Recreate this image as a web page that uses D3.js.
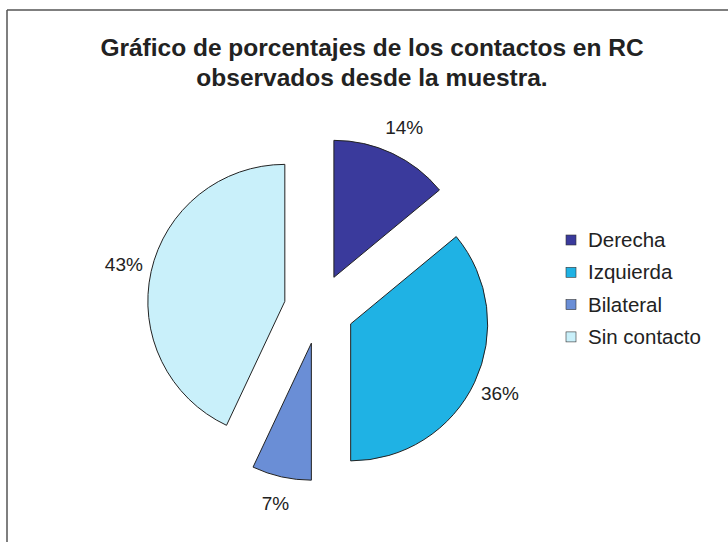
<!DOCTYPE html>
<html>
<head>
<meta charset="utf-8">
<script src="https://d3js.org/d3.v7.min.js"></script>
<style>
  body { margin: 0; padding: 0; background: #fff; }
  svg { display: block; font-family: "Liberation Sans", Arial, sans-serif; }
</style>
</head>
<body>
<div id="chart"></div>
<script>
// Chart data
const categories = ['Derecha', 'Izquierda', 'Bilateral', 'Sin contacto'];
const values = [14, 36, 7, 43];
const colors = ['#3a3a9c', '#1fb2e4', '#6a8ed6', '#c9f0fa'];
const titleLines = ['Gráfico de porcentajes de los contactos en RC', 'observados desde la muestra.'];

const width = 728;
const height = 542;
const cx = 319, cy = 309;
const radius = 137;
const explode = 35;

const svg = d3.select('#chart')
    .append('svg')
    .attr('width', width)
    .attr('height', height);

// frame (only top and left edges are visible in the scan)
svg.append('line')
    .attr('x1', 7).attr('y1', 10).attr('x2', width).attr('y2', 10)
    .attr('stroke', '#555').attr('stroke-width', 1.5);
svg.append('line')
    .attr('x1', 7).attr('y1', 10).attr('x2', 7).attr('y2', height)
    .attr('stroke', '#555').attr('stroke-width', 1.5);

// title
svg.append('text')
    .attr('x', 372)
    .attr('text-anchor', 'middle')
    .attr('font-size', 24.5)
    .attr('font-weight', 'bold')
    .attr('fill', '#222')
    .selectAll('tspan')
    .data(titleLines)
    .enter()
    .append('tspan')
    .attr('x', 372)
    .attr('y', (d, i) => 56 + i * 30)
    .text(d => d);

const pie = d3.pie().sort(null).value(d => d);
const arcs = pie(values);
const arc = d3.arc().innerRadius(0).outerRadius(radius);
const labelArc = d3.arc().innerRadius(200).outerRadius(200);

const g = svg.append('g').attr('transform', `translate(${cx},${cy})`);

g.selectAll('.slice')
    .data(arcs)
    .enter()
    .append('path')
    .attr('class', 'slice')
    .attr('transform', d => {
        const a = (d.startAngle + d.endAngle) / 2;
        return `translate(${Math.sin(a) * explode},${-Math.cos(a) * explode})`;
    })
    .attr('d', arc)
    .attr('fill', (d, i) => colors[i])
    .attr('stroke', '#222')
    .attr('stroke-width', 1);

const total = d3.sum(values);
g.selectAll('.pct')
    .data(arcs)
    .enter()
    .append('text')
    .attr('class', 'pct')
    .attr('x', d => labelArc.centroid(d)[0])
    .attr('y', d => labelArc.centroid(d)[1])
    .attr('dy', '0.3em')
    .attr('text-anchor', 'middle')
    .attr('font-size', 19)
    .attr('fill', '#222')
    .text(d => Math.round(d.data / total * 100) + '%');

// legend
const legend = svg.append('g').attr('transform', 'translate(566,240)');
const item = legend.selectAll('.item')
    .data(categories)
    .enter()
    .append('g')
    .attr('class', 'item')
    .attr('transform', (d, i) => `translate(0,${i * 32.3})`);

item.append('rect')
    .attr('x', 0).attr('y', -5)
    .attr('width', 10).attr('height', 10)
    .attr('fill', (d, i) => colors[i])
    .attr('stroke', '#333')
    .attr('stroke-width', 0.6);

item.append('text')
    .attr('x', 22)
    .attr('dy', '0.35em')
    .attr('font-size', 20.5)
    .attr('fill', '#222')
    .text(d => d);
</script>
</body>
</html>
